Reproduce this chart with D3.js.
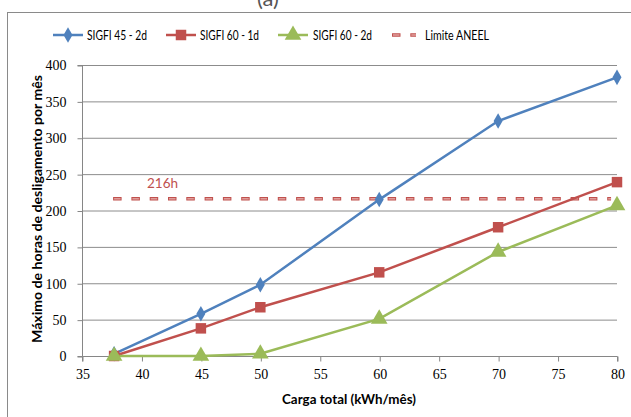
<!DOCTYPE html>
<html><head><meta charset="utf-8">
<script src="https://cdn.jsdelivr.net/npm/d3@7"></script>
<style>body{margin:0;background:#fff}svg{display:block}</style>
</head><body>
<script>
const xValues = [37.7, 45, 50, 60, 70, 80];
const sigfi45_2d = [3, 58, 98, 215, 323, 383];
const sigfi60_1d = [0, 38, 67, 115, 177, 239];
const sigfi60_2d = [0, 0, 3, 51, 143, 207];
const seriesNames = ["SIGFI 45 - 2d", "SIGFI 60 - 1d", "SIGFI 60 - 2d"];
const limitValue = 216;
const limitName = "Limite ANEEL";
const limitLabel = "216h";
const xTicks = [35, 40, 45, 50, 55, 60, 65, 70, 75, 80];
const yTicks = [0, 50, 100, 150, 200, 250, 300, 350, 400];
const xTitle = "Carga total (kWh/mês)";
const yTitle = "Máximo de horas de desligamento por mês";
const panelLabel = "(a)";

const W = 631, H = 417;
const font = "Lato, 'Open Sans', sans-serif";
const numFont = "'Liberation Serif', 'DejaVu Serif', serif";
const colors = ["#4F81BD", "#C0504D", "#9BBB59"];
const svg = d3.select("body").append("svg").attr("width", W).attr("height", H);

svg.append("rect").attr("x", 7.5).attr("y", 12.5).attr("width", 640).attr("height", 420)
  .attr("fill", "#fff").attr("stroke", "#8a8a8a").attr("stroke-width", 1);

svg.append("text").attr("x", 268).attr("y", 6).attr("text-anchor", "middle")
  .attr("font-family", font).attr("font-size", 22).attr("fill", "#555").text(panelLabel);

const x = d3.scaleLinear().domain([35, 80]).range([82, 617]);
const y = d3.scaleLinear().domain([0, 400]).range([356, 65]);

// gridlines
svg.append("g").selectAll("line").data(yTicks.filter(d => d > 0)).join("line")
  .attr("x1", x(35)).attr("x2", x(80)).attr("y1", d => y(d) + 0.5).attr("y2", d => y(d) + 0.5)
  .attr("stroke", "#8c8c8c").attr("stroke-width", 1);

// axes
const yAxis = svg.append("g").attr("transform", `translate(${x(35) + 0.5},0.5)`)
  .call(d3.axisLeft(y).tickValues(yTicks).tickSize(5).tickPadding(11));
const xAxis = svg.append("g").attr("transform", `translate(0.5,${y(0) + 0.5})`)
  .call(d3.axisBottom(x).tickValues(xTicks).tickSize(5).tickPadding(8));
[xAxis, yAxis].forEach(g => {
  g.selectAll("path,line").attr("stroke", "#868686");
  g.selectAll("text").attr("font-family", numFont).attr("font-size", 14).attr("fill", "#000");
});
xAxis.select(".domain").attr("d", `M${x(35)},5V0H${x(80)}V5`);
yAxis.select(".domain").attr("d", `M-5,${y(400)}H0V${y(0)}H-5`);

// titles
svg.append("text").attr("x", 349).attr("y", 404).attr("text-anchor", "middle")
  .attr("font-family", font).attr("font-size", 13.5).attr("font-weight", "bold")
  .attr("textLength", 134).attr("lengthAdjust", "spacingAndGlyphs").text(xTitle);
svg.append("text").attr("transform", `translate(42,${209}) rotate(-90)`)
  .attr("text-anchor", "middle").attr("font-family", font).attr("font-size", 13.5)
  .attr("font-weight", "bold").attr("textLength", 268).attr("lengthAdjust", "spacingAndGlyphs")
  .text(yTitle);

// limit line
function dashed(g, x1, x2, yy) {
  g.append("line").attr("x1", x1).attr("x2", x2).attr("y1", yy).attr("y2", yy)
    .attr("stroke", "#C0504D").attr("stroke-width", 3.5).attr("stroke-dasharray", "8.5,9.8");
  g.append("line").attr("x1", x1 + 1).attr("x2", x2).attr("y1", yy).attr("y2", yy)
    .attr("stroke", "#F2C8C7").attr("stroke-width", 1).attr("stroke-dasharray", "6.5,11.8");
}
dashed(svg.append("g"), x(xValues[0]) - 1, x(79.5), y(limitValue));
svg.append("text").attr("x", 147).attr("y", 188).attr("font-family", font)
  .attr("font-size", 14).attr("fill", "#C0504D")
  .attr("textLength", 31).attr("lengthAdjust", "spacingAndGlyphs").text(limitLabel);

// series
const data = [sigfi45_2d, sigfi60_1d, sigfi60_2d];
const line = d3.line().x((d, i) => x(xValues[i])).y(d => y(d));
const markerTypes = [d3.symbolDiamond, d3.symbolSquare, d3.symbolTriangle];
const markerSizes = [70, 110, 120];
data.forEach((vals, si) => {
  svg.append("path").datum(vals).attr("d", line).attr("fill", "none")
    .attr("stroke", colors[si]).attr("stroke-width", 2.5);
});
data.forEach((vals, si) => {
  svg.append("g").selectAll("path").data(vals).join("path")
    .attr("d", d3.symbol().type(markerTypes[si]).size(markerSizes[si]))
    .attr("transform", (d, i) => `translate(${x(xValues[i])},${y(d)})`)
    .attr("fill", colors[si]);
});

// legend
const legY = 35;
const legItems = [
  {x: 53, tx: 87, w: 60}, {x: 166, tx: 200, w: 59}, {x: 278, tx: 313, w: 59}
];
legItems.forEach((it, i) => {
  svg.append("line").attr("x1", it.x).attr("x2", it.x + 30).attr("y1", legY).attr("y2", legY)
    .attr("stroke", colors[i]).attr("stroke-width", 2.5);
  svg.append("path").attr("d", d3.symbol().type(markerTypes[i]).size(markerSizes[i]))
    .attr("transform", `translate(${it.x + 15},${legY})`).attr("fill", colors[i]);
  svg.append("text").attr("x", it.tx).attr("y", legY + 5).attr("font-family", font)
    .attr("font-size", 14).attr("textLength", it.w).attr("lengthAdjust", "spacingAndGlyphs")
    .text(seriesNames[i]);
});
dashed(svg.append("g"), 392, 416, legY);
svg.append("text").attr("x", 425).attr("y", legY + 5).attr("font-family", font)
  .attr("font-size", 14).attr("textLength", 64).attr("lengthAdjust", "spacingAndGlyphs")
  .text(limitName);
</script>
</body></html>
